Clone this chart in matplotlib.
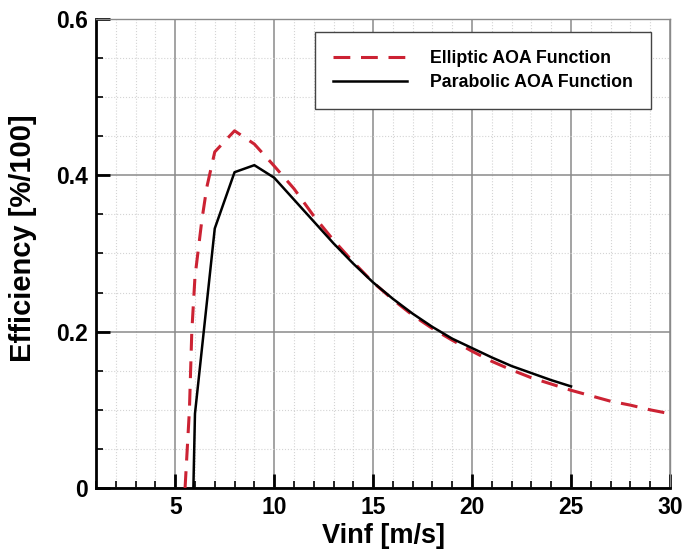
import numpy as np
import matplotlib
matplotlib.use("Agg")
import matplotlib.pyplot as plt
from matplotlib.ticker import MultipleLocator

plt.rcParams['font.family'] = ['Liberation Sans', 'DejaVu Sans']
plt.rcParams['font.weight'] = 'bold'

# Elliptic AOA function (red dashed)
v_elliptic = [5.5, 5.72, 5.84, 6.0, 6.35, 6.6, 7.0, 8.0, 9.0, 10, 11, 12, 13, 14, 15,
              16, 17, 18, 19, 20, 21, 22, 23, 24, 25, 26, 27, 28, 29, 30]
eff_elliptic = [0.0, 0.1, 0.2, 0.27, 0.343, 0.385, 0.43, 0.457, 0.44, 0.412, 0.383, 0.348,
                0.317, 0.289, 0.263, 0.241, 0.221, 0.204, 0.189, 0.175, 0.162, 0.151,
                0.141, 0.133, 0.125, 0.118, 0.111, 0.106, 0.100, 0.095]

# Parabolic AOA function (black solid)
v_parabolic = [5.92, 6.0, 7, 8, 9, 10, 11, 12, 13, 14, 15, 16, 17, 18, 19, 20,
               21, 22, 23, 24, 25]
eff_parabolic = [0.0, 0.095, 0.332, 0.404, 0.413, 0.397, 0.369, 0.341, 0.313, 0.287,
                 0.263, 0.242, 0.223, 0.206, 0.191, 0.179, 0.167, 0.156, 0.147, 0.138, 0.130]

fig = plt.figure(figsize=(6.84, 5.5), dpi=100)
ax = fig.add_axes([96 / 684, 1 - 488 / 550, (670 - 96) / 684, (488 - 19) / 550])

ax.plot(v_elliptic, eff_elliptic, color='#cc2233', lw=2.2, dashes=(5.5, 3.5),
        label='Elliptic AOA Function', zorder=3)
ax.plot(v_parabolic, eff_parabolic, color='black', lw=1.8,
        label='Parabolic AOA Function', zorder=4)

ax.set_xlim(1, 30)
ax.set_ylim(0, 0.6)
ax.xaxis.set_minor_locator(MultipleLocator(1))
ax.yaxis.set_minor_locator(MultipleLocator(0.05))
ax.set_xticks([5, 10, 15, 20, 25, 30])
ax.set_yticks([0, 0.2, 0.4, 0.6])
ax.set_yticklabels(['0', '0.2', '0.4', '0.6'])

ax.grid(which='major', color='#8a8a8a', lw=1.1)
ax.grid(which='minor', color='#d4d4d4', lw=0.8, ls=':')
ax.set_axisbelow(True)

ax.tick_params(which='major', direction='in', length=10, width=2, labelsize=16.5, pad=6)
ax.tick_params(which='minor', direction='in', length=5, width=1.2)

for s in ['left', 'bottom']:
    ax.spines[s].set_linewidth(2)
    ax.spines[s].set_color('black')
for s in ['top', 'right']:
    ax.spines[s].set_linewidth(1)
    ax.spines[s].set_color('#8a8a8a')

ax.set_xlabel('Vinf [m/s]', fontsize=19.5, fontweight='bold')
ax.set_ylabel('Efficiency [%/100]', fontsize=21, fontweight='bold')
ax.xaxis.set_label_coords(0.5, -0.075)
ax.yaxis.set_label_coords(-0.102, 0.533)

leg = ax.legend(loc='upper right', bbox_to_anchor=(651 / 684, 1 - 32 / 550),
                bbox_transform=fig.transFigure, borderaxespad=0, fancybox=False,
                framealpha=1, edgecolor='#444444', prop={'size': 12.8, 'weight': 'bold'},
                handlelength=4.2, handletextpad=1.3, labelspacing=0.4, borderpad=1.0)
leg.get_frame().set_linewidth(1)

fig.savefig('out.png', dpi=100)
